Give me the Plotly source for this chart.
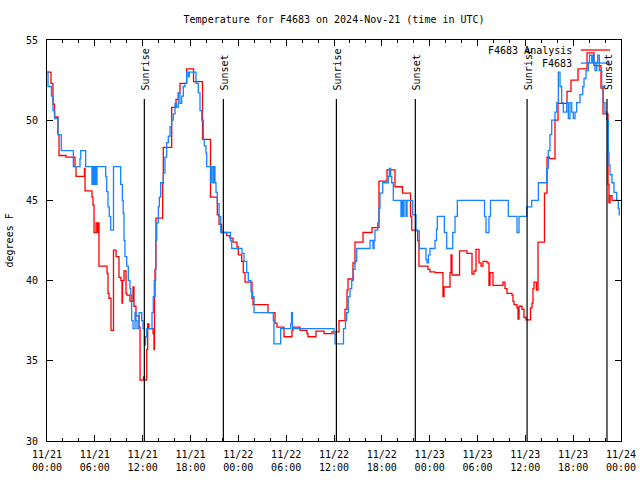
import pandas as pd
import plotly.graph_objects as go

# ---------------- data ----------------
start = pd.Timestamp("2024-11-21 00:00")

analysis_hours = [0.00, 0.50, 0.75, 0.94, 1.38, 1.51, 2.38, 3.51, 3.64, 4.70, 4.77, 5.64, 5.77, 5.90, 6.15,
                  6.33, 6.40, 6.52, 7.53, 7.65, 7.78, 8.03, 8.34, 8.66, 9.03, 9.28, 9.41, 9.47, 9.66, 9.91,
                  10.03, 10.41, 10.79, 10.91, 11.16, 11.54, 11.67, 12.10, 12.23, 12.51, 12.63, 12.79, 13.30,
                  13.42, 13.48, 13.55, 13.67, 14.51, 14.59, 15.64, 16.18, 16.47, 16.68, 17.52, 18.38, 19.51,
                  20.51, 21.36, 21.58, 21.91, 22.54, 22.95, 23.33, 23.83, 24.00, 24.42, 24.62, 24.84, 25.71,
                  25.84, 27.72, 28.60, 28.85, 29.73, 30.73, 30.86, 31.74, 32.61, 32.74, 33.74, 34.75, 35.75,
                  36.63, 37.38, 37.63, 37.76, 38.38, 38.63, 39.64, 40.77, 41.64, 42.65, 43.65, 44.59, 45.60,
                  45.75, 46.50, 46.66, 47.79, 48.04, 48.67, 49.67, 49.80, 50.55, 50.68, 50.80, 51.75, 52.68,
                  53.31, 53.56, 53.81, 54.19, 54.44, 54.69, 55.19, 55.44, 55.57, 55.94, 57.20, 57.45, 57.70,
                  58.33, 58.45, 58.58, 58.95, 59.08, 59.21, 59.58, 59.83, 60.08, 60.65, 60.84, 60.96, 61.09,
                  61.40, 61.59, 62.40, 62.72, 63.03, 63.72, 64.10, 65.23, 65.73, 66.61, 67.74, 68.61, 69.49,
                  69.74, 70.37, 70.49, 70.62, 70.87, 71.62]
analysis_temp = [53.0, 52.3, 51.0, 50.2, 49.1, 47.8, 47.7, 47.1, 46.5, 47.0, 45.6, 45.2, 44.7, 43.0, 43.6,
                 43.0, 43.6, 40.9, 40.45, 39.2, 38.9, 36.9, 41.9, 41.5, 40.2, 40.0, 38.6, 40.0, 40.6, 39.2,
                 39.1, 38.7, 39.6, 38.4, 37.8, 37.1, 33.8, 34.0, 33.8, 35.7, 37.3, 37.0, 36.7,
                 35.7, 39.0, 40.7, 43.9, 46.1, 48.3, 50.8, 51.3, 51.7, 52.3, 53.2, 52.4, 48.8,
                 45.2, 44.1, 43.5, 43.0, 42.8, 42.65, 42.4, 42.1, 41.6, 41.2, 40.5, 39.9, 38.9,
                 38.5, 38.0, 37.35, 37.1, 36.5, 36.9, 37.1, 36.9, 36.7, 36.5, 36.85, 36.7, 36.8,
                 37.5, 38.2, 39.4, 40.1, 41.1, 42.4, 43.0, 43.3, 46.2, 46.9, 45.85, 45.45, 44.0,
                 43.15, 42.5, 40.9, 40.7, 40.55, 40.5, 39.0, 39.6, 40.5, 41.6, 40.35, 41.85, 41.7,
                 40.4, 40.6, 41.95, 41.1, 40.9, 41.2, 41.1, 39.7, 40.5, 39.7, 39.9, 39.5, 39.2,
                 39.1, 38.7, 38.5, 38.3, 37.6, 38.4, 38.2, 37.7, 37.55, 38.3, 38.6, 39.5, 39.9,
                 39.4, 42.4, 45.45, 47.7, 47.6, 50.0, 51.05, 51.8, 52.5, 53.2, 54.2, 53.4, 52.0,
                 50.4, 46.0, 44.85, 45.3, 45.0, 45.0]

station_hours = [0.00, 0.13, 0.56, 0.75, 0.97, 1.38, 1.79, 3.30, 4.14, 4.23, 4.85, 5.64, 5.77, 5.90, 6.02,
                 6.15, 6.27, 7.36, 7.49, 7.65, 7.81, 7.99, 8.34, 9.24, 9.45, 9.56, 9.66, 9.78, 10.00, 10.20,
                 10.41, 10.51, 10.62, 10.79, 11.04, 11.16, 11.29, 11.54, 11.88, 12.04, 12.23, 12.36, 12.51,
                 13.17, 13.33, 13.46, 13.63, 13.76, 13.96, 14.09, 14.26, 14.59, 14.80, 15.01, 15.22, 15.43,
                 15.64, 15.84, 16.06, 16.24, 16.47, 16.68, 16.90, 17.10, 17.31, 17.52, 17.72, 17.85, 18.69,
                 18.98, 19.19, 19.41, 19.61, 19.73, 19.94, 20.03, 20.53, 20.63, 20.82, 20.95, 21.07, 21.20,
                 21.36, 21.58, 21.79, 23.02, 23.17, 24.46, 24.71, 25.05, 25.25, 25.59, 25.80, 25.97, 28.39,
                 28.47, 29.31, 30.57, 30.67, 30.79, 36.00, 36.13, 37.19, 37.44, 37.59, 37.79, 38.01, 38.22,
                 38.42, 38.63, 38.85, 40.52, 40.89, 41.02, 41.14, 41.48, 41.64, 41.77, 42.11, 42.81, 42.94,
                 43.11, 43.24, 43.44, 44.40, 44.53, 44.66, 44.78, 45.03, 45.16, 45.87, 46.29, 46.70, 47.54,
                 47.67, 47.85, 48.04, 48.67, 48.86, 48.96, 49.84, 50.14, 50.89, 51.18, 51.47, 54.88, 55.07,
                 55.44, 55.63, 57.86, 58.96, 59.21, 60.17, 60.80, 61.63, 62.68, 62.88, 63.09, 63.31, 63.72,
                 63.94, 64.14, 64.35, 64.56, 64.76, 65.19, 65.39, 65.60, 65.82, 66.02, 66.23, 66.44, 66.86,
                 67.20, 67.36, 67.61, 67.90, 68.05, 68.33, 68.49, 68.61, 68.74, 68.95, 69.08, 69.28, 69.58,
                 69.78, 69.99, 70.21, 70.41, 70.49, 70.62, 70.87, 71.12, 71.46, 71.66, 71.78, 71.87]
station_temp = [53.0, 52.1, 51.5, 50.6, 50.1, 49.1, 48.1, 47.1, 47.6, 48.1, 47.1, 46.0, 47.1, 46.0, 47.1,
                46.0, 47.1, 46.5, 45.55, 44.6, 44.0, 43.15, 47.1, 46.0, 45.0, 44.2, 42.5, 41.5, 40.9, 40.0,
                39.5, 39.1, 37.5, 37.0, 38.0, 37.5, 37.0, 38.0, 37.5, 37.0, 36.0, 36.5, 37.0,
                38.0, 39.0, 40.0, 42.5, 43.6, 44.6, 45.2, 46.1, 46.7, 47.7, 48.6, 49.0, 49.6,
                50.0, 50.4, 51.05, 50.8, 51.7, 51.05, 51.5, 52.1, 52.3, 53.0, 52.7, 53.0, 52.3,
                51.7, 50.6, 50.0, 48.8, 48.4, 47.95, 47.1, 46.1, 47.1, 46.1, 47.1, 46.1, 45.5,
                44.8, 44.0, 43.0, 42.5, 42.0, 41.7, 41.2, 40.5, 40.0, 39.3, 39.0, 38.0, 37.5,
                36.05, 37.0, 37.3, 38.0, 37.0, 36.7, 36.05, 37.0, 37.5, 38.0, 39.0, 39.5, 40.0,
                40.7, 41.2, 42.0, 42.5, 42.0, 42.5, 43.15, 43.6, 44.5, 45.45, 46.1, 46.5, 47.0,
                46.5, 46.1, 45.0, 44.0, 45.0, 44.0, 45.0, 44.0, 45.0, 44.1, 43.1, 42.0, 41.3,
                41.1, 41.6, 42.0, 42.5, 43.2, 44.0, 43.0, 42.0, 43.0, 44.0, 45.0, 44.0, 43.0,
                44.0, 45.0, 44.0, 43.0, 44.0, 44.6, 45.0, 46.1, 47.0, 48.1, 49.1, 50.0, 50.5,
                51.1, 53.0, 52.1, 51.1, 50.5, 51.1, 50.1, 51.1, 50.5, 50.1, 50.5, 51.1, 51.6,
                52.1, 52.6, 53.1, 53.6, 54.05, 53.6, 54.05, 53.6, 53.1, 53.6, 54.05, 53.1, 52.1,
                51.1, 50.5, 50.05, 48.0, 47.2, 46.6, 46.1, 45.5, 45.0, 44.5, 44.1, 44.1]

sun_event_hours = [12.21, 22.12, 36.30, 46.20, 60.22, 70.24]
sun_event_labels = ["Sunrise", "Sunset", "Sunrise", "Sunset", "Sunrise", "Sunset"]

xtick_hours = list(range(0, 73, 6))
xtick_labels = ["11/21<br>00:00", "11/21<br>06:00", "11/21<br>12:00", "11/21<br>18:00",
                "11/22<br>00:00", "11/22<br>06:00", "11/22<br>12:00", "11/22<br>18:00",
                "11/23<br>00:00", "11/23<br>06:00", "11/23<br>12:00", "11/23<br>18:00",
                "11/24<br>00:00"]

series_names = ["F4683 Analysis", "F4683"]
series_colors = ["#ff0000", "#1584ff"]

# ---------------- figure ----------------
def to_time(hours):
    return start + pd.to_timedelta(pd.Series(hours, dtype=float), unit="h")

FONT = "DejaVu Sans Mono"
fig = go.Figure()
for name, col, hrs, vals in [(series_names[0], series_colors[0], analysis_hours, analysis_temp),
                             (series_names[1], series_colors[1], station_hours, station_temp)]:
    fig.add_trace(go.Scatter(x=to_time(hrs), y=vals, mode="lines", name=name,
                             line=dict(color=col, width=1.3, shape="hv"), showlegend=False))

sun_times = to_time(sun_event_hours)
for t, lab in zip(sun_times, sun_event_labels):
    fig.add_shape(type="line", xref="x", yref="paper", x0=t, x1=t, y0=0, y1=0.853,
                  line=dict(color="black", width=1.2))
    fig.add_annotation(x=t, xref="x", y=0.870, yref="paper", text=lab, textangle=-90,
                       showarrow=False, xanchor="center", yanchor="bottom", xshift=1,
                       font=dict(family=FONT, size=10, color="black"))

# key (gnuplot style: text then sample line)
for i, (name, col) in enumerate(zip(series_names, series_colors)):
    yk = 0.975 - i * 0.0325
    fig.add_annotation(x=0.918, xref="paper", y=yk, yref="paper", text=name, showarrow=False,
                       xanchor="right", yanchor="middle",
                       font=dict(family=FONT, size=10, color="black"))
    fig.add_shape(type="line", xref="paper", yref="paper", x0=0.930, x1=0.981, y0=yk, y1=yk,
                  line=dict(color=col, width=1.3))

fig.add_annotation(x=-0.0645, xref="paper", y=0.5, yref="paper", text="degrees F", textangle=-90,
                   showarrow=False, xanchor="center", yanchor="middle",
                   font=dict(family=FONT, size=10, color="black"))

fig.update_layout(
    width=640, height=480,
    margin=dict(l=47, r=19, t=40, b=39, pad=0, autoexpand=False),
    paper_bgcolor="white", plot_bgcolor="white",
    font=dict(family=FONT, size=10, color="black"),
    title=dict(text="Temperature for F4683 on 2024-Nov-21 (time in UTC)", x=0.522, xanchor="center",
               y=1 - 19 / 480, yanchor="middle", yref="container",
               font=dict(family=FONT, size=10, color="black")),
)
fig.update_xaxes(
    type="date", range=[start, start + pd.Timedelta(hours=72)], automargin=False,
    tickvals=to_time(xtick_hours), ticktext=xtick_labels,
    ticks="inside", ticklen=6, tickcolor="black", tickwidth=1,
    minor=dict(dtick=2 * 3600 * 1000, tick0=start, ticks="inside", ticklen=3, tickcolor="black"),
    showline=True, linecolor="black", linewidth=1, mirror="ticks",
    showgrid=False, zeroline=False, ticklabelstandoff=4,
)
fig.update_yaxes(
    range=[30, 55], tickvals=[30, 35, 40, 45, 50, 55], automargin=False,
    ticks="inside", ticklen=6, tickcolor="black", tickwidth=1,
    showline=True, linecolor="black", linewidth=1, mirror="ticks",
    showgrid=False, zeroline=False, ticklabelstandoff=6,
)

fig.write_html("out.html", config={"displayModeBar": False},
               post_script="document.body.style.margin='0px';document.body.style.overflow='hidden';")
